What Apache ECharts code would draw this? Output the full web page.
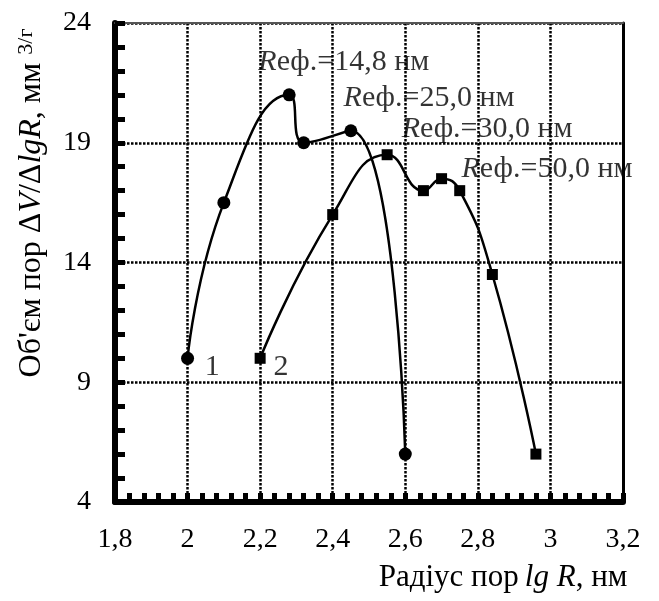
<!DOCTYPE html>
<html>
<head>
<meta charset="utf-8">
<script src="https://cdn.jsdelivr.net/npm/echarts@6/dist/echarts.min.js"></script>
<style>
  html, body { margin: 0; padding: 0; background: #fff; }
  #chart { width: 659px; height: 601px; }
</style>
</head>
<body>
<div id="chart"></div>
<script>
"use strict";
// крива 1 (кружки)
var curve1 = [[2.0, 10], [2.1, 16.5], [2.28, 21], [2.32, 19], [2.45, 19.5], [2.6, 6]];
// крива 2 (квадрати)
var curve2 = [[2.2, 10], [2.4, 16], [2.55, 18.5], [2.65, 17], [2.7, 17.5], [2.75, 17], [2.84, 13.5], [2.96, 6]];
// підписи на полі графіка
var notes = [
    { value: [2.195, 22.35], name: "{i|R}еф.=14,8 нм" },
    { value: [2.43, 20.85], name: "{i|R}еф.=25,0 нм" },
    { value: [2.59, 19.55], name: "{i|R}еф.=30,0 нм" },
    { value: [2.755, 17.9], name: "{i|R}еф.=50,0 нм" },
    { value: [2.047, 9.64], name: "1" },
    { value: [2.237, 9.64], name: "2" }
];
var xMin = 1.8, xMax = 3.2, xStep = 0.2;
var yMin = 4, yMax = 24, yStep = 5;

var FONT = "Liberation Serif";

function initChart() {
    var myChart = echarts.init(document.getElementById('chart'), null, { renderer: 'canvas' });
    var tickStyle = { color: '#000', width: 5 };
    var gridLine = { color: '#000', width: 2.5, type: [2.5, 1.5] };
    var option = {
        animation: false,
        backgroundColor: '#fff',
        grid: { left: 115, right: 36, top: 23, bottom: 99 },
        xAxis: [
            {
                type: 'value', min: xMin, max: xMax, interval: xStep,
                axisLine: { show: true, onZero: false, lineStyle: { color: '#000', width: 6 } },
                axisTick: { show: true, inside: true, length: 9, lineStyle: tickStyle },
                minorTick: { show: true, splitNumber: 5, length: 9, lineStyle: tickStyle },
                axisLabel: {
                    margin: 24, color: '#000', fontFamily: FONT, fontSize: 28,
                    formatter: function (v) { return String(+v.toFixed(1)).replace('.', ','); }
                },
                splitLine: { show: true, lineStyle: gridLine }
            },
            {
                type: 'value', min: xMin, max: xMax, position: 'top',
                axisLine: { show: true, onZero: false, lineStyle: { color: '#555', width: 2 } },
                axisTick: { show: false }, axisLabel: { show: false }, splitLine: { show: false }
            }
        ],
        yAxis: [
            {
                type: 'value', min: yMin, max: yMax, interval: yStep,
                axisLine: { show: true, onZero: false, lineStyle: { color: '#000', width: 6 } },
                axisTick: { show: true, inside: true, length: 10, lineStyle: tickStyle },
                minorTick: { show: true, splitNumber: 5, length: 10, lineStyle: tickStyle },
                axisLabel: { margin: 24, color: '#000', fontFamily: FONT, fontSize: 28 },
                splitLine: { show: true, lineStyle: gridLine }
            },
            {
                type: 'value', min: yMin, max: yMax, position: 'right',
                axisLine: { show: true, onZero: false, lineStyle: { color: '#000', width: 3 } },
                axisTick: { show: false }, axisLabel: { show: false }, splitLine: { show: false }
            }
        ],
        series: [
            {
                type: 'line', data: curve1, smooth: 0.5,
                symbol: 'circle', symbolSize: 13, showSymbol: true,
                lineStyle: { color: '#000', width: 2.5 },
                itemStyle: { color: '#000' }
            },
            {
                type: 'line', data: curve2, smooth: 0.5,
                symbol: 'rect', symbolSize: 11, showSymbol: true,
                lineStyle: { color: '#000', width: 2.5 },
                itemStyle: { color: '#000' }
            },
            {
                type: 'scatter', data: notes, symbolSize: 0, silent: true,
                label: {
                    show: true, position: 'right', distance: 0,
                    formatter: function (p) { return p.name; },
                    color: '#000', fontFamily: FONT, fontSize: 30,
                    rich: { i: { fontStyle: 'italic', fontFamily: FONT, fontSize: 30, color: '#000' } }
                }
            }
        ],
        graphic: [
            {
                type: 'text', x: 503, y: 578,
                style: {
                    text: 'Радіус пор\u2009{i|lg R}, нм',
                    fill: '#000', font: '31px "' + FONT + '"', align: 'center', verticalAlign: 'middle',
                    rich: { i: { fontStyle: 'italic', fontFamily: FONT, fontSize: 31, fill: '#000' } }
                }
            },
            {
                type: 'text', x: 32, y: 203, rotation: Math.PI / 2,
                style: {
                    text: "Об'єм пор Δ{i|V}/Δ{i|lgR}, мм {s|3/г}",
                    fill: '#000', font: '32px "' + FONT + '"', align: 'center', verticalAlign: 'middle',
                    rich: {
                        i: { fontStyle: 'italic', fontFamily: FONT, fontSize: 32, fill: '#000' },
                        s: { fontFamily: FONT, fontSize: 22, fill: '#000', verticalAlign: 'top', padding: [0, 0, 12, 0] }
                    }
                }
            }
        ]
    };
    myChart.setOption(option);
    return myChart;
}

initChart();
</script>
</body>
</html>
